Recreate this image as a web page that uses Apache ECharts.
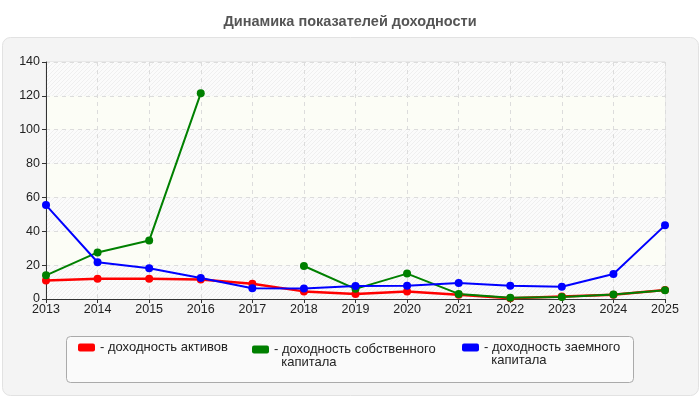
<!DOCTYPE html>
<html lang="ru">
<head>
    <meta charset="UTF-8">
    <title>Динамика показателей доходности</title>
    <script src="https://cdn.jsdelivr.net/npm/echarts@6/dist/echarts.min.js"></script>
    <style>
        * { margin: 0; padding: 0; box-sizing: border-box; }
        body { background: #fff; }
        #paint { width: 700px; height: 400px; }
    </style>
</head>
<body>
    <div id="paint"></div>
    <script>
        var years = ['2013', '2014', '2015', '2016', '2017', '2018', '2019', '2020', '2021', '2022', '2023', '2024', '2025'];
        var yTicks = [0, 20, 40, 60, 80, 100, 120, 140];
        var assets = [11, 12, 12, 11.5, 9, 4.5, 3, 4.5, 2.5, 0.5, 1.5, 2.5, 5.3];
        var equity = [14, 27.5, 34.5, 121.5, null, 19.5, 6, 15, 3, 0.8, 1.2, 2.6, 5.1];
        var borrowed = [55.5, 21.7, 18.2, 12.4, 6.3, 6.2, 7.7, 7.9, 9.5, 7.9, 7.2, 14.8, 43.5];
        var names = ['доходность активов', 'доходность собственного капитала', 'доходность заемного капитала'];

        // hatch for every other band
        var cv = document.createElement('canvas');
        cv.width = 4; cv.height = 4;
        var cx = cv.getContext('2d');
        cx.fillStyle = '#fbfbfb';
        cx.fillRect(0, 0, 4, 4);
        cx.strokeStyle = '#efefef';
        cx.lineWidth = 1;
        cx.beginPath();
        cx.moveTo(0, 4); cx.lineTo(4, 0);
        cx.moveTo(-1, 1); cx.lineTo(1, -1);
        cx.moveTo(3, 5); cx.lineTo(5, 3);
        cx.stroke();
        var hatch = { image: cv, repeat: 'repeat' };

        var font = '"Liberation Sans", Arial, sans-serif';
        var mychart = echarts.init(document.getElementById('paint'));

        function legendFor(i, left, top, text) {
            return {
                left: left,
                top: top,
                data: [names[i]],
                itemWidth: 17,
                itemHeight: 8,
                padding: 0,
                icon: 'roundRect',
                selectedMode: false,
                formatter: function () { return text; },
                textStyle: { color: '#222', fontSize: 13, fontFamily: font, lineHeight: 13 }
            };
        }

        var option = {
            animation: false,
            backgroundColor: '#fff',
            title: {
                text: 'Динамика показателей доходности',
                left: 'center',
                top: 9,
                textStyle: { color: '#555', fontSize: 14.5, fontWeight: 'bold', fontFamily: font }
            },
            graphic: [
                {
                    type: 'rect', z: -10,
                    shape: { x: 2.5, y: 37.5, width: 696, height: 358, r: 8 },
                    style: { fill: '#f4f4f4', stroke: '#e2e2e2', lineWidth: 1 }
                },
                {
                    type: 'rect', z: -5,
                    shape: { x: 66.5, y: 336.5, width: 567, height: 46, r: 4 },
                    style: { fill: '#fafafa', stroke: '#aaa', lineWidth: 1 }
                }
            ],
            legend: [
                legendFor(0, 78, 341, '- доходность активов'),
                legendFor(1, 252, 330, ' \n- доходность собственного\n  капитала'),
                legendFor(2, 462, 328, ' \n- доходность заемного\n  капитала')
            ],
            grid: {
                left: 46,
                right: 35,
                top: 62,
                bottom: 101,
                show: true,
                borderColor: '#dddddd',
                borderWidth: 1
            },
            xAxis: {
                type: 'category',
                data: years,
                boundaryGap: false,
                axisLine: { lineStyle: { color: '#333' } },
                axisTick: { show: true, length: 4, lineStyle: { color: '#333' } },
                axisLabel: { color: '#222', fontSize: 12.5, fontFamily: font, margin: 4 },
                splitLine: { show: true, lineStyle: { color: '#dcdcdc', type: [4, 4] } }
            },
            yAxis: {
                type: 'value',
                min: yTicks[0],
                max: yTicks[yTicks.length - 1],
                interval: 20,
                axisLine: { show: true, lineStyle: { color: '#333' } },
                axisTick: { show: true, length: 4, lineStyle: { color: '#333' } },
                axisLabel: { color: '#222', fontSize: 12.5, fontFamily: font, margin: 6 },
                splitLine: { show: true, lineStyle: { color: '#dcdcdc', type: [4, 4] } },
                splitArea: { show: true, areaStyle: { color: [hatch, '#fcfdf6'] } }
            },
            series: [
                {
                    name: names[0], type: 'line', data: assets,
                    symbol: 'circle', symbolSize: 8,
                    itemStyle: { color: '#ff0000' },
                    lineStyle: { color: '#ff0000', width: 2.5 }
                },
                {
                    name: names[1], type: 'line', data: equity,
                    symbol: 'circle', symbolSize: 8, connectNulls: false,
                    itemStyle: { color: '#008000' },
                    lineStyle: { color: '#008000', width: 2 }
                },
                {
                    name: names[2], type: 'line', data: borrowed,
                    symbol: 'circle', symbolSize: 8,
                    itemStyle: { color: '#0000ff' },
                    lineStyle: { color: '#0000ff', width: 2 }
                }
            ]
        };
        mychart.setOption(option);
    </script>
</body>
</html>
